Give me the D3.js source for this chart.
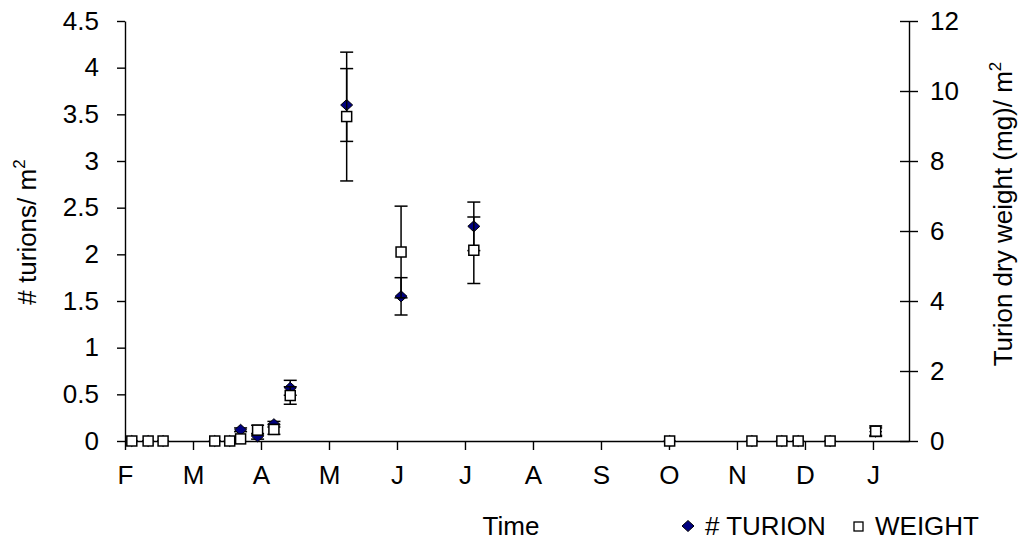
<!DOCTYPE html>
<html><head><meta charset="utf-8">
<script src="https://cdn.jsdelivr.net/npm/d3@7"></script>
<style>body{margin:0;background:#fff}svg{display:block;font-family:Arial,"Liberation Sans",sans-serif}</style>
</head><body><svg id="c" width="1022" height="541"></svg>
<script>
// month index measured from 1 Feb
const sampleMonths = [0.10,0.34,0.56,1.32,1.54,1.70,1.95,2.19,2.43,3.26,4.06,5.13,8.01,9.22,9.66,9.90,10.37,11.04];
const turion      = [0,0,0,0,0,0.12,0.05,0.18,0.57,3.60,1.55,2.30,0,0,0,0,0,0.10];
const turionErr   = [0,0,0,0,0,0.02,0.03,0.03,0.08,0.39,0.20,0.26,0,0,0,0,0,0.04];
const weight      = [0,0,0,0,0,0.06,0.31,0.33,1.30,9.27,5.40,5.45,0,0,0,0,0,0.28];
const weightErr   = [0,0,0,0,0,0,0.14,0.14,0.25,1.84,1.31,0.95,0,0,0,0,0,0.15];
const monthLabels = ["F","M","A","M","J","J","A","S","O","N","D","J"];
const leftTicks   = [0,0.5,1,1.5,2,2.5,3,3.5,4,4.5];
const rightTicks  = [0,2,4,6,8,10,12];

const svg = d3.select("#c");
const L=125, R=909, T=21, B=441, FS=26;
const x = d3.scaleLinear().domain([0,11.53]).range([L,R]);
const yL = d3.scaleLinear().domain([0,4.5]).range([B,T]);
const yR = d3.scaleLinear().domain([0,12]).range([B,T]);

// axes
const gx = svg.append("g").attr("transform",`translate(0,${B})`)
  .call(d3.axisBottom(x).tickValues(d3.range(monthLabels.length)).tickFormat(i=>monthLabels[i]).tickSize(9).tickSizeOuter(0));
const gl = svg.append("g").attr("transform",`translate(${L},0)`)
  .call(d3.axisLeft(yL).tickValues(leftTicks).tickFormat(d=>String(d)).tickSize(8).tickSizeOuter(0));
const gr = svg.append("g").attr("transform",`translate(${R},0)`)
  .call(d3.axisRight(yR).tickValues(rightTicks).tickFormat(d=>String(d)).tickSize(9).tickSizeOuter(0));
gr.selectAll(".tick line").attr("x1",-9).attr("x2",9);
[gx,gl,gr].forEach(g=>{
  g.selectAll("path,line").attr("stroke","#000").attr("stroke-width",1.4);
  g.selectAll("text").attr("fill","#000").attr("font-size",FS).attr("font-family","Arial,'Liberation Sans',sans-serif");
});
gx.selectAll("text").attr("y",43).attr("dy",0);
gl.selectAll("text").attr("x",-26);
gr.selectAll("text").attr("x",21);

// titles
svg.append("text").attr("x",511).attr("y",535).attr("text-anchor","middle").attr("font-size",FS).text("Time");
const lt = svg.append("text").attr("transform","translate(36,232) rotate(-90)").attr("text-anchor","middle").attr("font-size",FS);
lt.append("tspan").text("# turions/ m");
lt.append("tspan").attr("font-size",17).attr("dy",-11).text("2");
const rt = svg.append("text").attr("transform","translate(1012,214) rotate(-90)").attr("text-anchor","middle").attr("font-size",FS);
rt.append("tspan").text("Turion dry weight (mg)/ m");
rt.append("tspan").attr("font-size",17).attr("dy",-11).text("2");

const idx = d3.range(sampleMonths.length);
function errBars(vals, errs, y){
  const g = svg.append("g").attr("stroke","#000").attr("stroke-width",1.5);
  idx.filter(i=>errs[i]>0).forEach(i=>{
    const cx = x(sampleMonths[i]);
    g.append("line").attr("x1",cx).attr("x2",cx).attr("y1",y(vals[i]-errs[i])).attr("y2",y(vals[i]+errs[i]));
    [vals[i]-errs[i], vals[i]+errs[i]].forEach(v=>{
      g.append("line").attr("x1",cx-6.5).attr("x2",cx+6.5).attr("y1",y(v)).attr("y2",y(v));
    });
  });
}
const diamond = "M0,-5.5L6,0L0,5.5L-6,0Z";
errBars(turion, turionErr, yL);
svg.append("g").selectAll("path").data(idx).join("path")
  .attr("d",diamond).attr("transform",i=>`translate(${x(sampleMonths[i])},${yL(turion[i])})`)
  .attr("fill","#000080").attr("stroke","#000").attr("stroke-width",1);
errBars(weight, weightErr, yR);
svg.append("g").selectAll("rect").data(idx).join("rect")
  .attr("x",i=>x(sampleMonths[i])-5).attr("y",i=>yR(weight[i])-5).attr("width",10).attr("height",10)
  .attr("fill","#fff").attr("stroke","#000").attr("stroke-width",1.5);

// legend
const lg = svg.append("g").attr("font-size",FS);
lg.append("path").attr("d","M0,-5.5L6,0L0,5.5L-6,0Z").attr("transform","translate(688,526)").attr("fill","#000080").attr("stroke","#000");
lg.append("text").attr("x",705).attr("y",535).text("# TURION");
lg.append("rect").attr("x",854).attr("y",522).attr("width",9).attr("height",9).attr("fill","#fff").attr("stroke","#000").attr("stroke-width",1.3);
lg.append("text").attr("x",875).attr("y",535).text("WEIGHT");
</script></body></html>
